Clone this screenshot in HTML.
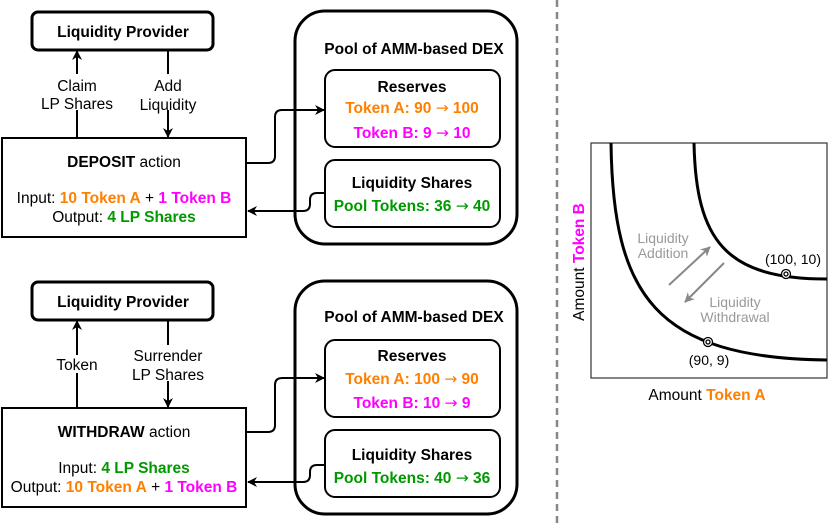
<!DOCTYPE html>
<html><head><meta charset="utf-8"><style>
body{margin:0;width:831px;height:525px;background:#fff;overflow:hidden}
text{font-family:"Liberation Sans",Arial,sans-serif;font-size:15.5px}
.b{font-weight:bold}.o{fill:#ff8000}.m{fill:#ff00ff}.g{fill:#009900}
.ar{font-family:"DejaVu Sans",sans-serif;font-weight:normal}
</style></head><body>
<svg width="831" height="525" viewBox="0 0 831 525" xmlns="http://www.w3.org/2000/svg">
<defs><marker id="a" markerWidth="10" markerHeight="10" refX="9" refY="5" orient="auto" markerUnits="userSpaceOnUse"><path d="M0,0 L10,5 L0,10 L3,5 z" fill="#000"/></marker>
<marker id="ag" markerWidth="10" markerHeight="10" refX="9" refY="5" orient="auto" markerUnits="userSpaceOnUse"><path d="M0,0 L10,5 L0,10 L3,5 z" fill="#888"/></marker></defs>
<g fill="none" stroke="#000">
<rect x="32" y="12" width="181" height="38" rx="6" stroke-width="3"/>
<rect x="2" y="138" width="244" height="99" stroke-width="2"/>
<rect x="295" y="11" width="222" height="233" rx="30" stroke-width="3"/>
<rect x="325" y="70" width="175" height="77" rx="10" stroke-width="2"/>
<rect x="325" y="160" width="175" height="67" rx="10" stroke-width="2"/>
<line x1="77" y1="138" x2="77" y2="51" stroke-width="2" marker-end="url(#a)"/>
<line x1="168" y1="50" x2="168" y2="137" stroke-width="2" marker-end="url(#a)"/>
<path d="M246,163 H268 Q275,163 275,156 V117 Q275,110 282,110 H324" stroke-width="2" marker-end="url(#a)"/>
<path d="M325,193 H317 Q310,193 310,200 V204 Q310,211 303,211 H248" stroke-width="2" marker-end="url(#a)"/>
<rect x="32" y="282" width="181" height="38" rx="6" stroke-width="3"/>
<rect x="2" y="408" width="244" height="99" stroke-width="2"/>
<rect x="295" y="281" width="222" height="233" rx="30" stroke-width="3"/>
<rect x="325" y="340" width="175" height="77" rx="10" stroke-width="2"/>
<rect x="325" y="430" width="175" height="67" rx="10" stroke-width="2"/>
<line x1="77" y1="408" x2="77" y2="321" stroke-width="2" marker-end="url(#a)"/>
<line x1="168" y1="320" x2="168" y2="407" stroke-width="2" marker-end="url(#a)"/>
<path d="M246,432 H268 Q275,432 275,425 V385 Q275,378 282,378 H324" stroke-width="2" marker-end="url(#a)"/>
<path d="M325,465 H317 Q310,465 310,472 V475 Q310,482 303,482 H248" stroke-width="2" marker-end="url(#a)"/>
<line x1="557" y1="0" x2="557" y2="525" stroke="#888" stroke-width="2.5" stroke-dasharray="7,5"/>
<rect x="591" y="143" width="236" height="235" stroke="#333" stroke-width="1.2"/>
<path d="M611,143 C613,295 655,358 827,360" stroke-width="3"/>
<path d="M694,143 C696,240 725,279 827,279" stroke-width="3"/>
<line x1="669" y1="285" x2="710" y2="247" stroke="#888" stroke-width="2" marker-end="url(#ag)"/>
<line x1="724" y1="263" x2="685" y2="302" stroke="#888" stroke-width="2" marker-end="url(#ag)"/>
</g>
<g fill="#fff" stroke="#000" stroke-width="1.3"><circle cx="786" cy="274" r="4.5"/><circle cx="786" cy="274" r="2"/><circle cx="708" cy="342" r="4.5"/><circle cx="708" cy="342" r="2"/></g>
<g text-anchor="middle">
<text x="123" y="37" class="b">Liquidity Provider</text>
<rect x="40" y="74" width="76" height="36" fill="#fff"/>
<text x="77" y="91">Claim</text><text x="77" y="109">LP Shares</text>
<rect x="135" y="74" width="66" height="36" fill="#fff"/>
<text x="168" y="91">Add</text><text x="168" y="110">Liquidity</text>
<text x="124" y="167"><tspan class="b">DEPOSIT</tspan> action</text>
<text x="124" y="203">Input: <tspan class="o b">10 Token A</tspan> + <tspan class="m b">1 Token B</tspan></text>
<text x="124" y="222">Output: <tspan class="g b">4 LP Shares</tspan></text>
<text x="414" y="54" class="b">Pool of AMM-based DEX</text>
<text x="412" y="92" class="b">Reserves</text>
<text x="412" y="113" class="b o">Token A: 90 <tspan class="ar">→</tspan> 100</text>
<text x="412" y="138" class="b m">Token B: 9 <tspan class="ar">→</tspan> 10</text>
<text x="412" y="188" class="b">Liquidity Shares</text>
<text x="412" y="211" class="b g">Pool Tokens: 36 <tspan class="ar">→</tspan> 40</text>

<text x="123" y="307" class="b">Liquidity Provider</text>
<rect x="55" y="355" width="45" height="18" fill="#fff"/>
<text x="77" y="370">Token</text>
<rect x="128" y="345" width="80" height="36" fill="#fff"/>
<text x="168" y="361">Surrender</text><text x="168" y="380">LP Shares</text>
<text x="124" y="437"><tspan class="b">WITHDRAW</tspan> action</text>
<text x="124" y="473">Input: <tspan class="g b">4 LP Shares</tspan></text>
<text x="124" y="492">Output: <tspan class="o b">10 Token A</tspan> + <tspan class="m b">1 Token B</tspan></text>
<text x="414" y="322" class="b">Pool of AMM-based DEX</text>
<text x="412" y="361" class="b">Reserves</text>
<text x="412" y="384" class="b o">Token A: 100 <tspan class="ar">→</tspan> 90</text>
<text x="412" y="408" class="b m">Token B: 10 <tspan class="ar">→</tspan> 9</text>
<text x="412" y="460" class="b">Liquidity Shares</text>
<text x="412" y="483" class="b g">Pool Tokens: 40 <tspan class="ar">→</tspan> 36</text>

<g fill="#999"><text x="663" y="243" style="font-size:14px">Liquidity</text><text x="663" y="258" style="font-size:14px">Addition</text>
<text x="735" y="307" style="font-size:14px">Liquidity</text><text x="735" y="322" style="font-size:14px">Withdrawal</text></g>
<text x="793" y="264" style="font-size:14px">(100, 10)</text>
<text x="709" y="365" style="font-size:14px">(90, 9)</text>
<text x="707" y="400">Amount <tspan class="o b">Token A</tspan></text>
<text transform="translate(584,262) rotate(-90)">Amount <tspan class="m b">Token B</tspan></text>
</g>
</svg>
</body></html>
